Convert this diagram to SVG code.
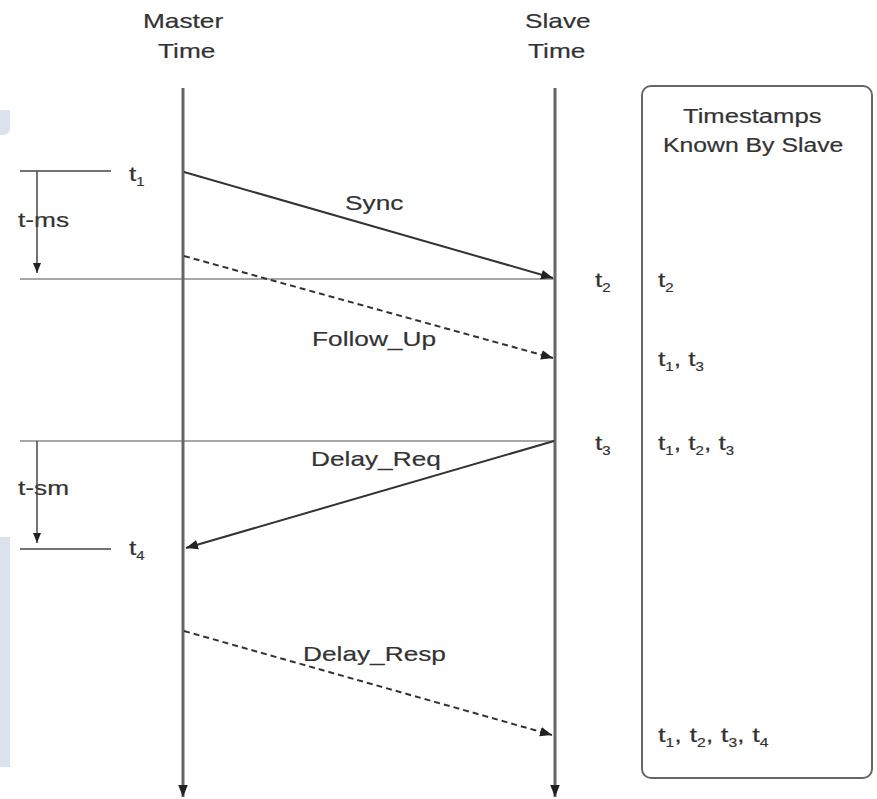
<svg xmlns="http://www.w3.org/2000/svg" width="877" height="799" viewBox="0 0 877 799">
<style>
text{font-family:"Liberation Sans",Arial,sans-serif;fill:#333;stroke:#333;stroke-width:0.2}
.h{font-size:21px}
.t{font-size:21px}
.s{font-size:12px}
.life{stroke:#666;stroke-width:3;fill:none}
.ref{stroke:#8a8a8a;stroke-width:1.5;fill:none}
.msg{stroke:#333;stroke-width:2;fill:none}
.dash{stroke:#333;stroke-width:2;fill:none;stroke-dasharray:6 4}
.dim{stroke:#444;stroke-width:1.5;fill:none}
</style>
<defs>
<marker id="ah" viewBox="0 0 10 10" refX="10" refY="5" markerWidth="10" markerHeight="10" markerUnits="userSpaceOnUse" orient="auto">
<path d="M0,1 L10,5 L0,9 Z" fill="#222"/>
</marker>
<marker id="ah2" viewBox="0 0 10 10" refX="10" refY="5" markerWidth="12" markerHeight="12" markerUnits="userSpaceOnUse" orient="auto">
<path d="M0,1 L10,5 L0,9 Z" fill="#222"/>
</marker>
</defs>
<rect width="877" height="799" fill="#fff"/>
<g id="bg">
<path d="M0,110 H10 V128 Q10,135 3,135 H0 Z" fill="#dbe3ee"/>
<rect x="0" y="537" width="10" height="230" fill="#dbe3ee"/>
</g>
<g id="master">
<text class="h" transform="translate(143,28) scale(1.25,1)">Master</text>
<text class="h" transform="translate(158,58) scale(1.25,1)">Time</text>
</g>
<g id="slave">
<text class="h" transform="translate(525,28) scale(1.25,1)">Slave</text>
<text class="h" transform="translate(528,58) scale(1.25,1)">Time</text>
</g>
<g id="timestamps">
<rect x="642" y="86" width="230" height="692" rx="9" fill="none" stroke="#666" stroke-width="2"/>
<text class="h" transform="translate(683,123) scale(1.22,1)">Timestamps</text>
<text class="h" transform="translate(663,152) scale(1.18,1)">Known By Slave</text>
<text class="t" transform="translate(658,287) scale(1.25,1)">t<tspan class="s" dy="5">2</tspan></text>
<text class="t" transform="translate(658,366) scale(1.25,1)">t<tspan class="s" dy="5">1</tspan><tspan dy="-5">, t</tspan><tspan class="s" dy="5">3</tspan></text>
<text class="t" transform="translate(658,450) scale(1.25,1)">t<tspan class="s" dy="5">1</tspan><tspan dy="-5">, t</tspan><tspan class="s" dy="5">2</tspan><tspan dy="-5">, t</tspan><tspan class="s" dy="5">3</tspan></text>
<text class="t" transform="translate(658,742) scale(1.3,1)">t<tspan class="s" dy="5">1</tspan><tspan dy="-5">, t</tspan><tspan class="s" dy="5">2</tspan><tspan dy="-5">, t</tspan><tspan class="s" dy="5">3</tspan><tspan dy="-5">, t</tspan><tspan class="s" dy="5">4</tspan></text>
</g>
<g id="labels">
<text class="t" transform="translate(129,181) scale(1.25,1)">t<tspan class="s" dy="5">1</tspan></text>
<text class="t" transform="translate(129,555) scale(1.25,1)">t<tspan class="s" dy="5">4</tspan></text>
<text class="t" transform="translate(595,287) scale(1.25,1)">t<tspan class="s" dy="5">2</tspan></text>
<text class="t" transform="translate(595,450) scale(1.25,1)">t<tspan class="s" dy="5">3</tspan></text>
<text class="h" transform="translate(18,227) scale(1.25,1)">t-ms</text>
<text class="h" transform="translate(18,495) scale(1.25,1)">t-sm</text>
<text class="h" transform="translate(345,210) scale(1.25,1)">Sync</text>
<text class="h" transform="translate(312,346) scale(1.25,1)">Follow_Up</text>
<text class="h" transform="translate(311,466) scale(1.25,1)">Delay_Req</text>
<text class="h" transform="translate(303,661) scale(1.25,1)">Delay_Resp</text>
</g>
<g id="connectors">
<line class="ref" x1="20" y1="279" x2="555" y2="279"/>
<line class="ref" x1="20" y1="441" x2="555" y2="441"/>
<line class="dim" x1="20" y1="171" x2="111" y2="171"/>
<line class="dim" x1="20" y1="549" x2="111" y2="549"/>
<line class="dim" x1="37" y1="171" x2="37" y2="273" marker-end="url(#ah)"/>
<line class="dim" x1="37" y1="441" x2="37" y2="543" marker-end="url(#ah)"/>
<line class="life" x1="183" y1="88" x2="183" y2="797" marker-end="url(#ah2)"/>
<line class="life" x1="555" y1="88" x2="555" y2="797" marker-end="url(#ah2)"/>
<line class="msg" x1="184" y1="172" x2="553" y2="278" marker-end="url(#ah2)"/>
<line class="dash" x1="184" y1="256" x2="553" y2="358" marker-end="url(#ah2)"/>
<line class="msg" x1="554" y1="441" x2="186" y2="548" marker-end="url(#ah2)"/>
<line class="dash" x1="184" y1="631" x2="552" y2="735" marker-end="url(#ah2)"/>
</g>
</svg>
